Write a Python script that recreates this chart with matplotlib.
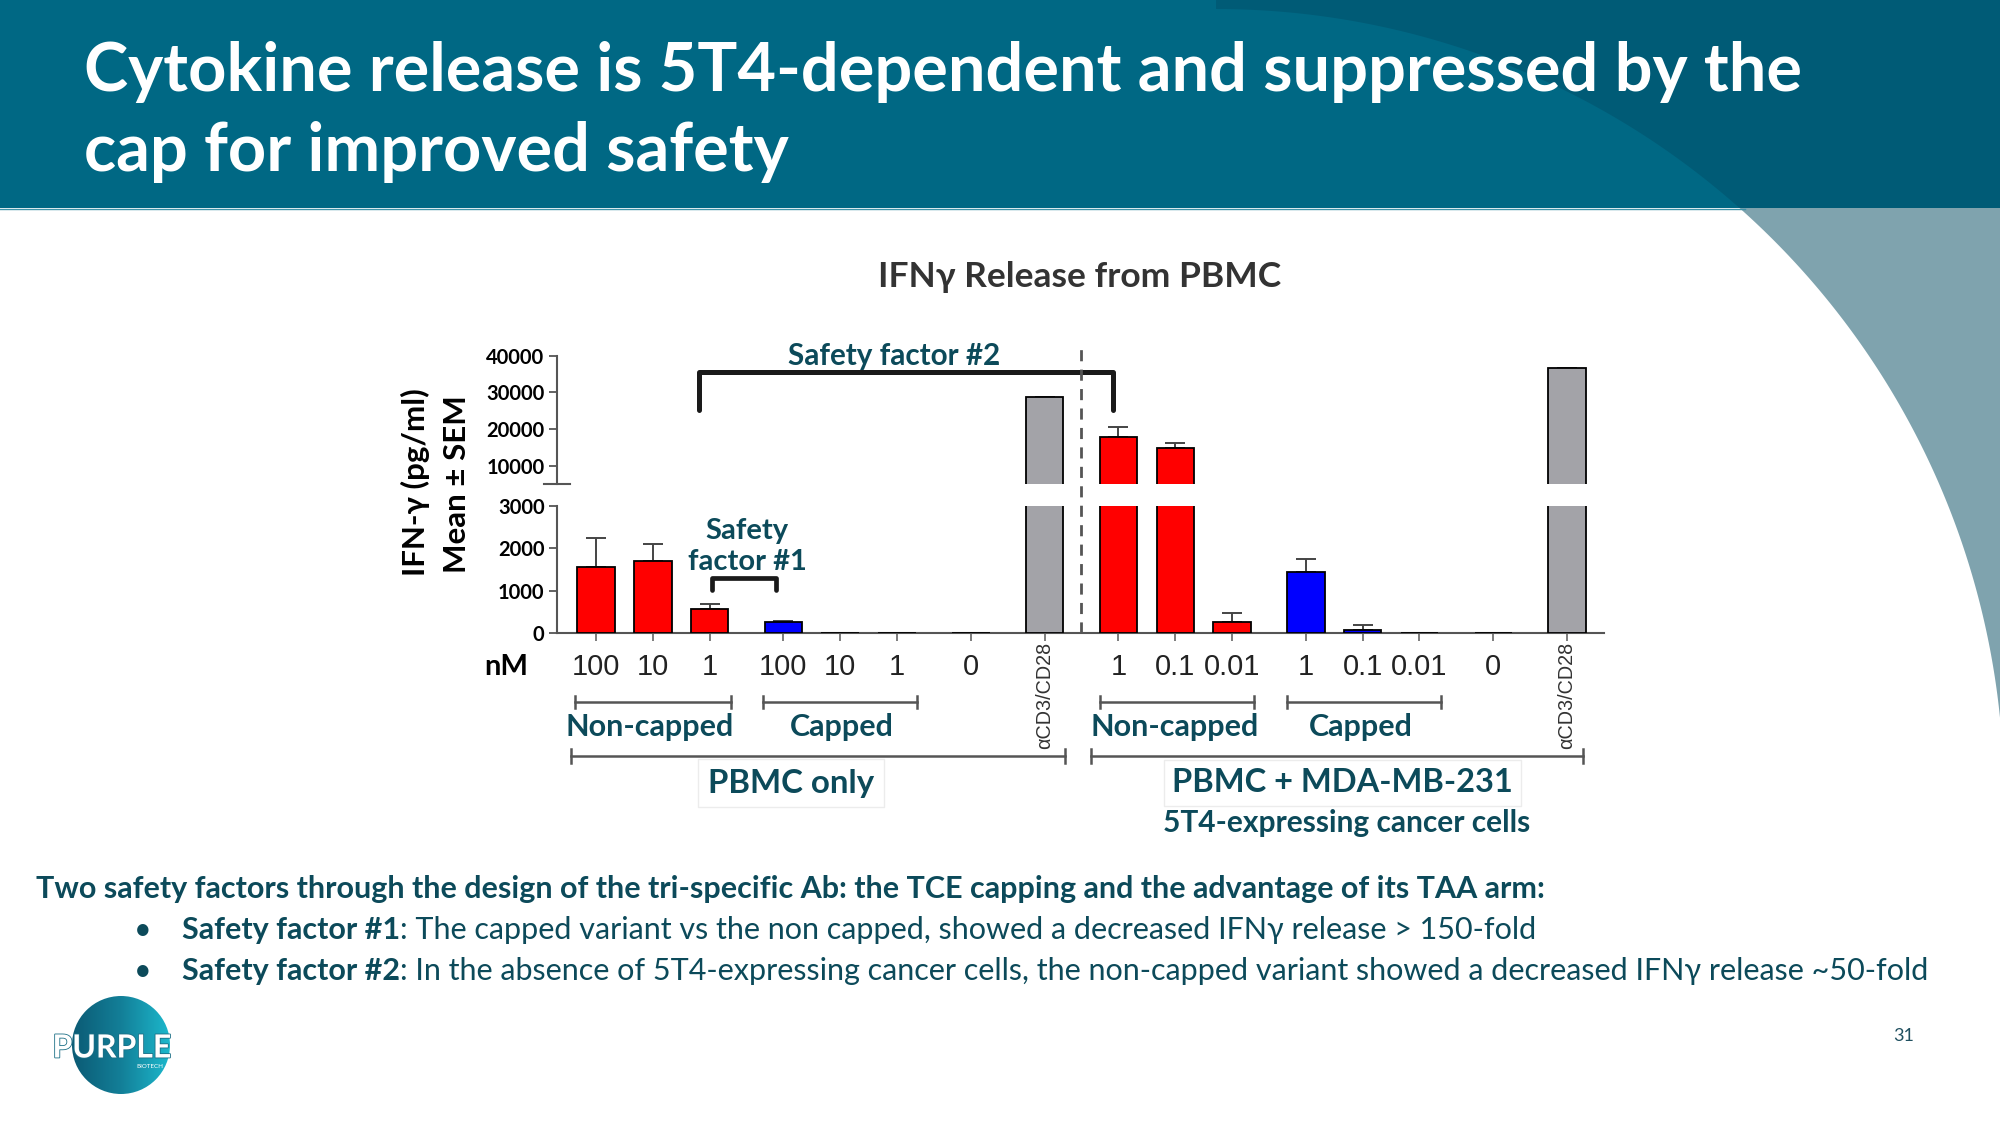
import matplotlib
matplotlib.use("Agg")
import matplotlib.pyplot as plt
import matplotlib.transforms as mtransforms
import matplotlib.patheffects as pe
from matplotlib.patches import Rectangle, Polygon, Circle
import numpy as np

# ---- data ----
tick_labels = ["100", "10", "1", "100", "10", "1", "0", "αCD3/CD28",
               "1", "0.1", "0.01", "1", "0.1", "0.01", "0", "αCD3/CD28"]
bar_kind = ["noncap", "noncap", "noncap", "cap", "cap", "cap", "none", "ctrl",
            "noncap", "noncap", "noncap", "cap", "cap", "cap", "none", "ctrl"]
group_sizes = [3, 3, 1, 1, 3, 3, 1, 1]
ifng_mean = [1550, 1690, 580, 260, 0, 0, 0, 28640,
             17900, 14730, 258, 1430, 86, 0, 0, 36640]
ifng_sem = [680, 400, 100, 20, 0, 0, 0, 150,
            2550, 1370, 210, 310, 114, 0, 0, 120]

W, H = 2000, 1125
TEAL = "#0c4a5a"
kind_color = {"noncap": "#ff0000", "cap": "#0000ff", "ctrl": "#a3a3a8", "none": "#ffffff"}

plt.rcParams['font.family'] = ['Lato', 'DejaVu Sans']
NARROW = ['Liberation Sans Narrow', 'Liberation Sans', 'DejaVu Sans']


def yf(py):
    return 1 - py / H


# bar positions: unit spacing inside a group, wider gap between groups
pos = []
x = 0.0
for g in group_sizes:
    for i in range(g):
        pos.append(x)
        x += 1
    x += 0.3
pos = np.array(pos)

fig = plt.figure(figsize=(W / 100, H / 100), dpi=100)
fig.patch.set_facecolor("white")

# ---- slide background ----
bg = fig.add_axes([0, 0, 1, 1], zorder=-5)
bg.set_xlim(0, W)
bg.set_ylim(H, 0)
bg.axis("off")
ca, cb, cr = 1216, 797, 788
t = np.linspace(0, np.arcsin(min(1.0, (W - ca) / cr)), 200)
arc = np.column_stack([ca + cr * np.sin(t), cb - cr * np.cos(t)])
shape = np.vstack([[ca, 0], arc, [W, arc[-1, 1]], [W, 0]])
bg.add_patch(Polygon(shape, closed=True, color="#7fa3ae", lw=0))
head = Rectangle((0, 0), W, 208, color="#006884", lw=0)
bg.add_patch(head)
dark = Polygon(shape, closed=True, color="#005b76", lw=0)
bg.add_patch(dark)
dark.set_clip_path(head)
bg.plot([0, 1745], [208.5, 208.5], color="#3e93a8", lw=1)

fig.text(84 / W, yf(91), "Cytokine release is 5T4-dependent and suppressed by the",
         color="white", fontsize=48, fontweight="bold", va="baseline")
fig.text(84 / W, yf(171), "cap for improved safety",
         color="white", fontsize=48, fontweight="bold", va="baseline")

# ---- chart axes (broken y axis) ----
x0, x1 = 557, 1604
ax_hi = fig.add_axes([x0 / W, yf(483.7), (x1 - x0) / W, (483.7 - 355.7) / H])
ax_lo = fig.add_axes([x0 / W, yf(633.3), (x1 - x0) / W, (633.3 - 505.7) / H])
xlim = (-0.687, 17.75)

colors = [kind_color[k] for k in bar_kind]
for ax in (ax_hi, ax_lo):
    ax.bar(pos, ifng_mean, width=0.66, color=colors, edgecolor="black", linewidth=1.3, zorder=3)
    m = np.array(ifng_mean)
    s = np.array(ifng_sem)
    keep = s > 0
    ax.errorbar(pos[keep], m[keep], yerr=[np.zeros(keep.sum()), s[keep]], fmt="none",
                ecolor="#444444", elinewidth=1.4, capsize=7, capthick=1.4, zorder=2)
    ax.set_xlim(*xlim)
    ax.patch.set_alpha(0)
    for sp in ("top", "right"):
        ax.spines[sp].set_visible(False)
    ax.spines["left"].set_color("#555555")
    ax.spines["left"].set_linewidth(1.5)
    ax.tick_params(axis="y", length=6, width=1.3, color="#555555", pad=3, labelsize=14.5)

ax_hi.set_ylim(5090, 40000)
ax_hi.set_yticks([10000, 20000, 30000, 40000])
ax_hi.spines["bottom"].set_visible(False)
ax_hi.set_xticks([])
ax_lo.set_ylim(0, 3000)
ax_lo.set_yticks([0, 1000, 2000, 3000])
ax_lo.spines["bottom"].set_color("#555555")
ax_lo.spines["bottom"].set_linewidth(1.5)
ax_lo.set_xticks(pos)
ax_lo.set_xticklabels([])
ax_lo.tick_params(axis="x", length=6, width=1.2, color="#666666")
for ax in (ax_hi, ax_lo):
    for lab in ax.get_yticklabels():
        lab.set_fontweight("bold")

# break marker on upper axis
ax_hi.plot([-0.012, 0.012], [0, 0], transform=ax_hi.transAxes, color="#555555", lw=1.5, clip_on=False)

bt = mtransforms.blended_transform_factory(ax_lo.transData, fig.transFigure)

# dashed separator
ax_lo.plot([8.54, 8.54], [yf(633), yf(347)], transform=bt, color="#555555", lw=2,
           dashes=(4, 3), clip_on=False, zorder=4)

# category labels
for p, lab in zip(pos, tick_labels):
    if lab.startswith("α"):
        ax_lo.text(p, yf(642), lab, transform=bt, rotation=90, ha="center", va="top",
                   fontsize=14.2, family=NARROW, color="#333333")
    else:
        ax_lo.text(p, yf(667), lab, transform=bt, ha="center", va="center",
                   fontsize=21, family=NARROW, color="#222222")
fig.text(506 / W, yf(667), "nM", ha="center", va="center", fontsize=21, fontweight="bold")


def span(a, b, py, cap, lw=1.8):
    ax_lo.plot([a, b], [yf(py), yf(py)], transform=bt, color="#555555", lw=lw, clip_on=False)
    for xx in (a, b):
        ax_lo.plot([xx, xx], [yf(py - cap), yf(py + cap)], transform=bt, color="#555555",
                   lw=lw, clip_on=False)


span(-0.37, 2.37, 702, 6)
span(2.94, 5.65, 702, 6)
span(8.87, 11.58, 702, 6)
span(12.16, 14.88, 702, 6)
span(-0.44, 8.26, 756, 7)
span(8.72, 17.38, 756, 7)

for xc, lab in [(0.95, "Non-capped"), (4.33, "Capped"), (10.19, "Non-capped"), (13.47, "Capped")]:
    ax_lo.text(xc, yf(727), lab, transform=bt, ha="center", va="center", fontsize=22,
               fontweight="bold", color=TEAL)
ax_lo.text(3.43, yf(783), "PBMC only", transform=bt, ha="center", va="center", fontsize=23.8,
           fontweight="bold", color=TEAL,
           bbox=dict(boxstyle="square,pad=0.3", fc="white", ec="#ececec", lw=1))
ax_lo.text(13.15, yf(783), "PBMC + MDA-MB-231", transform=bt, ha="center", va="center",
           fontsize=23.5, fontweight="bold", color=TEAL,
           bbox=dict(boxstyle="square,pad=0.25", fc="white", ec="#ececec", lw=1))
ax_lo.text(13.22, yf(823), "5T4-expressing cancer cells", transform=bt, ha="center",
           va="center", fontsize=21.5, fontweight="bold", color=TEAL)

# safety factor brackets
ax_hi.plot([1.81, 1.81, 9.1, 9.1], [25190, 35555, 35555, 25190], color="#1a1a1a", lw=3.6,
           solid_joinstyle="round", solid_capstyle="round", clip_on=False, zorder=5)
ax_lo.plot([2.04, 2.04, 3.17, 3.17], [1018, 1300, 1300, 1018], color="#1a1a1a", lw=3.4,
           solid_joinstyle="round", solid_capstyle="round", clip_on=False, zorder=5)
fig.text(894 / W, yf(356), "Safety factor #2", ha="center", va="center", fontsize=21.3,
         fontweight="bold", color=TEAL)
fig.text(747 / W, yf(531), "Safety", ha="center", va="center", fontsize=21,
         fontweight="bold", color=TEAL)
fig.text(747 / W, yf(562), "factor #1", ha="center", va="center", fontsize=21,
         fontweight="bold", color=TEAL)

# titles
fig.text(1080 / W, yf(277), "IFNγ Release from PBMC", ha="center", va="center", fontsize=25.5,
         fontweight="bold", color="#333333")
fig.text(415 / W, yf(482), "IFN-γ (pg/ml)", rotation=90, ha="center", va="center",
         fontsize=22.5, fontweight="bold")
fig.text(457 / W, yf(484), "Mean ± SEM", rotation=90, ha="center", va="center",
         fontsize=22.5, fontweight="bold")

# ---- bottom text ----
fig.text(36 / W, yf(898), "Two safety factors through the design of the tri-specific Ab: "
         "the TCE capping and the advantage of its TAA arm:", fontsize=22, fontweight="bold",
         color=TEAL, va="baseline")
bullets = [("Safety factor #1", ": The capped variant vs the non capped, showed a decreased IFNγ release > 150-fold"),
           ("Safety factor #2", ": In the absence of 5T4-expressing cancer cells, the non-capped variant "
                                "showed a decreased IFNγ release ~50-fold")]
for (bold, rest), base in zip(bullets, [939, 980]):
    fig.text(134 / W, yf(base), "•", fontsize=22, color=TEAL, va="baseline")
    tb = bg.text(182, base, bold, fontsize=22, fontweight="bold", color=TEAL, va="baseline")
    bg.annotate(rest, xy=(1, 0), xycoords=tb, fontsize=22, color=TEAL, va="bottom", ha="left")

fig.text(1904 / W, yf(1036), "31", ha="center", va="center", fontsize=13, color="#1f4f5f")

# logo
circ = Circle((121, 1045), 49, transform=bg.transData)
grad = np.linspace(0, 1, 256)[None, :]
cmap = matplotlib.colors.LinearSegmentedColormap.from_list("logo", ["#0b5a74", "#137f98", "#1cb8cc"])
im = bg.imshow(grad, extent=(72, 170, 1094, 996), cmap=cmap, aspect="auto", zorder=1)
im.set_clip_path(circ)
bg.set_xlim(0, W)
bg.set_ylim(H, 0)
bg.text(112, 1048, "PURPLE", fontsize=23, fontweight="bold", color="white", ha="center",
        va="center", zorder=2,
        path_effects=[pe.withStroke(linewidth=1.2, foreground="#1b6f86")])
bg.text(150, 1067, "BIOTECH", fontsize=4.5, color="white", ha="center", va="center", zorder=2)

fig.savefig("out.png", dpi=100)
